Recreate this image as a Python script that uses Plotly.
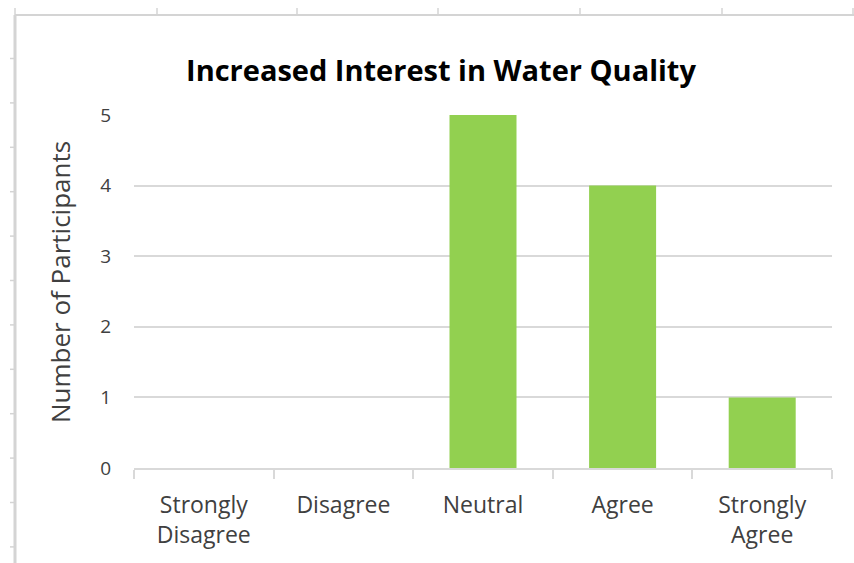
import plotly.graph_objects as go

# Survey responses
categories = ["Strongly<br>Disagree", "Disagree", "Neutral", "Agree", "Strongly<br>Agree"]
participants = [0, 0, 5, 4, 1]
y_ticks = [0, 1, 2, 3, 4, 5]

W, H = 854, 563
ML, MR, MT, MB = 134, 22, 115, 95
PW, PH = W - ML - MR, H - MT - MB

BAR = "#92D050"
GRID = "#D9D9D9"
TEXT = "#404040"
FRAME = "#D4D4D4"
FONT = "Open Sans"


def px_x(x):
    return (x - ML) / PW


def px_y(y):
    return (H - MB - y) / PH


fig = go.Figure(
    go.Bar(
        x=categories,
        y=participants,
        marker=dict(color=BAR, line=dict(width=0)),
        width=0.48,
    )
)

# Light worksheet frame around the chart object
shapes = [
    dict(type="line", xref="paper", yref="paper",
         x0=px_x(15), x1=px_x(854), y0=px_y(15), y1=px_y(15),
         line=dict(color=FRAME, width=2)),
    dict(type="line", xref="paper", yref="paper",
         x0=px_x(15), x1=px_x(15), y0=px_y(15), y1=px_y(563),
         line=dict(color=FRAME, width=3)),
]
for tx in [15, 157, 297, 438, 580, 722, 853]:
    shapes.append(dict(type="line", xref="paper", yref="paper",
                       x0=px_x(tx), x1=px_x(tx), y0=px_y(8), y1=px_y(15),
                       line=dict(color=FRAME, width=1.5)))
ty = 58.5
while ty < H:
    shapes.append(dict(type="line", xref="paper", yref="paper",
                       x0=px_x(10), x1=px_x(15), y0=px_y(ty), y1=px_y(ty),
                       line=dict(color=FRAME, width=1.5)))
    ty += 44.4

fig.update_layout(
    width=W,
    height=H,
    margin=dict(l=ML, r=MR, t=MT, b=MB),
    paper_bgcolor="white",
    plot_bgcolor="white",
    showlegend=False,
    bargap=0.52,
    font=dict(family=FONT, color=TEXT),
    title=dict(
        text="<b>Increased Interest in Water Quality</b>",
        font=dict(family=FONT, size=29, color="#000000"),
        x=px_x(441), xref="paper", xanchor="center",
        y=1 - 71 / H, yref="container", yanchor="middle",
    ),
    xaxis=dict(
        type="category",
        showgrid=False,
        showline=True,
        linecolor=GRID,
        linewidth=1.5,
        ticks="outside",
        tickson="boundaries",
        ticklen=9,
        tickcolor=GRID,
        tickwidth=1.5,
        tickfont=dict(family=FONT, size=23, color=TEXT),
        ticklabelstandoff=16,
    ),
    yaxis=dict(
        range=[0, 5],
        tickvals=y_ticks,
        showgrid=True,
        gridcolor=GRID,
        gridwidth=1.5,
        zeroline=False,
        showline=False,
        ticks="",
        tickfont=dict(family=FONT, size=19, color=TEXT),
        ticklabelstandoff=22,
    ),
    annotations=[
        dict(text="Number of Participants", textangle=-90,
             xref="paper", yref="paper", x=px_x(60), y=px_y(282),
             xanchor="center", yanchor="middle", showarrow=False,
             font=dict(family=FONT, size=26, color=TEXT)),
    ],
    shapes=shapes,
)

fig.write_html("out.html")
